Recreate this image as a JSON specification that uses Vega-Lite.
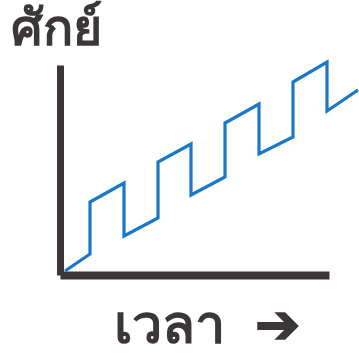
{
  "$schema": "https://vega.github.io/schema/vega-lite/v6.json",
  "width": 269,
  "height": 210,
  "autosize": {"type": "none"},
  "padding": {"left": 60, "top": 65, "right": 30, "bottom": 78},
  "background": "white",
  "config": {"view": {"stroke": null}},
  "data": {
    "values": [
      {"i": 1, "t": 5, "v": 4},
      {"i": 2, "t": 30, "v": 21},
      {"i": 3, "t": 30, "v": 73},
      {"i": 4, "t": 64, "v": 92},
      {"i": 5, "t": 64, "v": 39},
      {"i": 6, "t": 98, "v": 57},
      {"i": 7, "t": 98, "v": 113},
      {"i": 8, "t": 131, "v": 131},
      {"i": 9, "t": 131, "v": 80},
      {"i": 10, "t": 165, "v": 98},
      {"i": 11, "t": 165, "v": 152},
      {"i": 12, "t": 199, "v": 171},
      {"i": 13, "t": 199, "v": 121},
      {"i": 14, "t": 233, "v": 138},
      {"i": 15, "t": 233, "v": 193},
      {"i": 16, "t": 267, "v": 213},
      {"i": 17, "t": 267, "v": 164},
      {"i": 18, "t": 298, "v": 185}
    ]
  },
  "mark": {"type": "line", "color": "#1a78c8", "strokeWidth": 3.2, "clip": false, "strokeJoin": "miter"},
  "encoding": {
    "x": {
      "field": "t", "type": "quantitative",
      "scale": {"domain": [0, 269], "nice": false, "zero": false},
      "axis": {
        "domain": true, "domainColor": "#3b3738", "domainWidth": 8,
        "ticks": false, "labels": false, "grid": false,
        "title": "เวลา\u00a0 ➔", "titleFontSize": 54, "titleFontWeight": "bold",
        "titleColor": "#3b3738", "titleAlign": "left", "titleBaseline": "bottom",
        "titleX": 53, "titleY": 78, "titleFont": "sans-serif"
      }
    },
    "y": {
      "field": "v", "type": "quantitative",
      "scale": {"domain": [0, 210], "nice": false, "zero": false},
      "axis": {
        "domain": true, "domainColor": "#3b3738", "domainWidth": 7,
        "ticks": false, "labels": false, "grid": false,
        "title": "ศักย์", "titleFontSize": 50, "titleFontWeight": "bold",
        "titleColor": "#3b3738", "titleAngle": 0, "titleAlign": "left", "titleBaseline": "alphabetic",
        "titleX": -50, "titleY": -21, "titleFont": "sans-serif"
      }
    },
    "order": {"field": "i", "type": "quantitative"}
  }
}
